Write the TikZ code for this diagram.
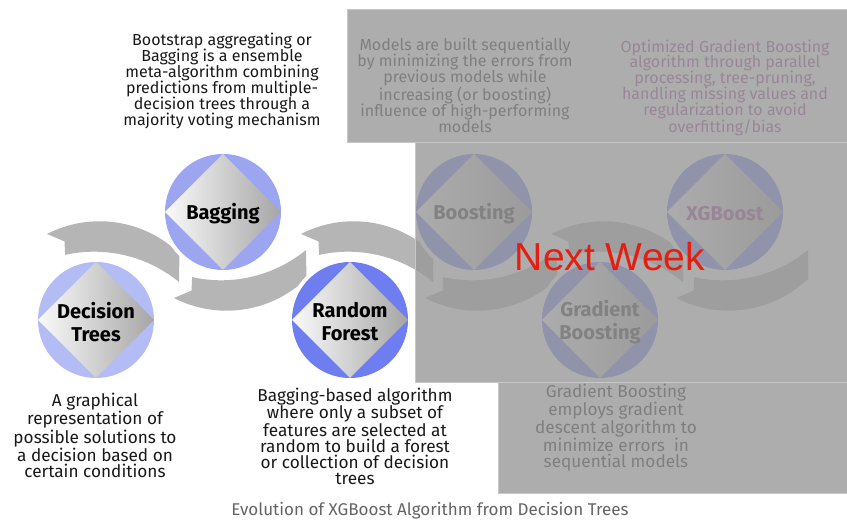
\documentclass[tikz,border=0pt]{standalone}
\usepackage{fontspec}
\setmainfont{Fira Sans}
\newfontfamily\nwfont{Liberation Sans}
\usetikzlibrary{calc}
\definecolor{bandgray}{RGB}{181,181,181}
\definecolor{dtblue}{RGB}{180,188,245}
\definecolor{bgblue}{RGB}{155,165,240}
\definecolor{rfblue}{RGB}{110,125,240}
\definecolor{plum}{RGB}{150,60,140}
\definecolor{ovgray}{RGB}{153,153,153}
\definecolor{ovline}{RGB}{200,200,200}
\definecolor{nwred}{RGB}{228,30,16}
\definecolor{capgray}{RGB}{100,100,100}
\tikzset{
  disk/.style={circle, fill=white, minimum size=124pt, inner sep=0pt, outer sep=0pt},
  lbl/.style={align=center, font=\fontsize{20}{23}\selectfont\bfseries, inner sep=0pt},
  desc/.style={align=center, text=black!90, font=\fontsize{17.2}{16.2}\selectfont, inner sep=0pt},
  desctop/.style={align=center, text=black!90, font=\fontsize{16}{15.9}\selectfont, inner sep=0pt},
  band/.style={fill=bandgray},
  ovl/.style={fill=ovgray, fill opacity=0.8, draw=ovline, line width=1pt},
}
\newcommand\underband[1]{%
  \begin{scope}[shift={(#1)}]
    \fill[band] (-49,-86) arc[start angle=242.8, end angle=314, radius=115]
      -- (83,-38) arc[start angle=-50.7, end angle=-102.5, radius=134]
      -- (-31.5,-78.6) -- cycle;
  \end{scope}}
\newcommand\overband[1]{%
  \begin{scope}[shift={(#1)}, yscale=-1]
    \fill[band] (-49,-86) arc[start angle=242.8, end angle=314, radius=115]
      -- (83,-38) arc[start angle=-50.7, end angle=-102.5, radius=134]
      -- (-31.5,-78.6) -- cycle;
  \end{scope}}
% #1 name, #2 coordinate, #3 blue, #4 label, #5 label colour
\newcommand\bubble[5]{%
  \node[disk] (#1) at (#2) {};
  \fill[#3] (#1) circle[radius=58];
  \shade[left color=white!96!gray, right color=gray!70]
    ($(#1)+(0,58)$) -- ($(#1)+(58,0)$) -- ($(#1)+(0,-58)$) -- ($(#1)+(-58,0)$) -- cycle;
  \node[lbl, text=#5] (#1l) at ($(#1)+(0,-2)$) {#4};}
\begin{document}
\begin{tikzpicture}[x=1pt, y=1pt]
\useasboundingbox (0,0) rectangle (847,527);
\fill[white] (0,0) rectangle (847,527);
% centres
\coordinate (cdt) at (96,207);
\coordinate (cbg) at (223,315);
\coordinate (crf) at (350,207);
\coordinate (cbo) at (474,315);
\coordinate (cgb) at (600,207);
\coordinate (cxg) at (725,315);
% bands
\overband{cdt}
\underband{cbg}
\overband{crf}
\underband{cbo}
\overband{cgb}
\underband{cxg}
% circles
\bubble{dt}{cdt}{dtblue}{Decision\\Trees}{black}
\bubble{bg}{cbg}{bgblue}{Bagging}{black}
\bubble{rf}{crf}{rfblue}{Random\\Forest}{black}
\bubble{bo}{cbo}{rfblue}{Boosting}{black!85}
\bubble{gb}{cgb}{rfblue}{Gradient\\Boosting}{black!85}
\bubble{xg}{cxg}{rfblue}{XGBoost}{plum}
% descriptions
\node[desctop] (dbg) at (222,446) {Bootstrap aggregating or\\Bagging is a ensemble\\meta-algorithm combining\\predictions from multiple-\\decision trees through a\\majority voting mechanism};
\node[desc] (ddt) at (95,91.5) {A graphical\\representation of\\possible solutions to\\a decision based on\\certain conditions};
\node[desc] (drf) at (355,90.5) {Bagging-based algorithm\\where only a subset of\\features are selected at\\random to build a forest\\or collection of decision\\trees};
\node[desctop] (dbo) at (465,441.5) {Models are built sequentially\\by minimizing the errors from\\previous models while\\increasing (or boosting)\\influence of high-performing\\models};
\node[desctop, text=plum] (dxg) at (725,439) {Optimized Gradient Boosting\\algorithm through parallel\\processing, tree-pruning,\\handling missing values and\\regularization to avoid\\overfitting/bias};
\node[desc] (dgb) at (616,99.5) {Gradient Boosting\\employs gradient\\descent algorithm to\\minimize errors~ in\\sequential models};
% overlay
\path[ovl] (347,384) rectangle (852,517);
\path[ovl] (415,144) rectangle (852,384);
\path[ovl] (498,33) rectangle (852,144);
\node[font=\nwfont\fontsize{39}{39}\selectfont, text=nwred, anchor=base, inner sep=0pt] (nw) at (610,256) {Next Week};
% caption
\node[font=\fontsize{17}{17}\selectfont, text=capgray, inner sep=0pt] (cap) at (430,16) {Evolution of XGBoost Algorithm from Decision Trees};
\end{tikzpicture}
\end{document}
